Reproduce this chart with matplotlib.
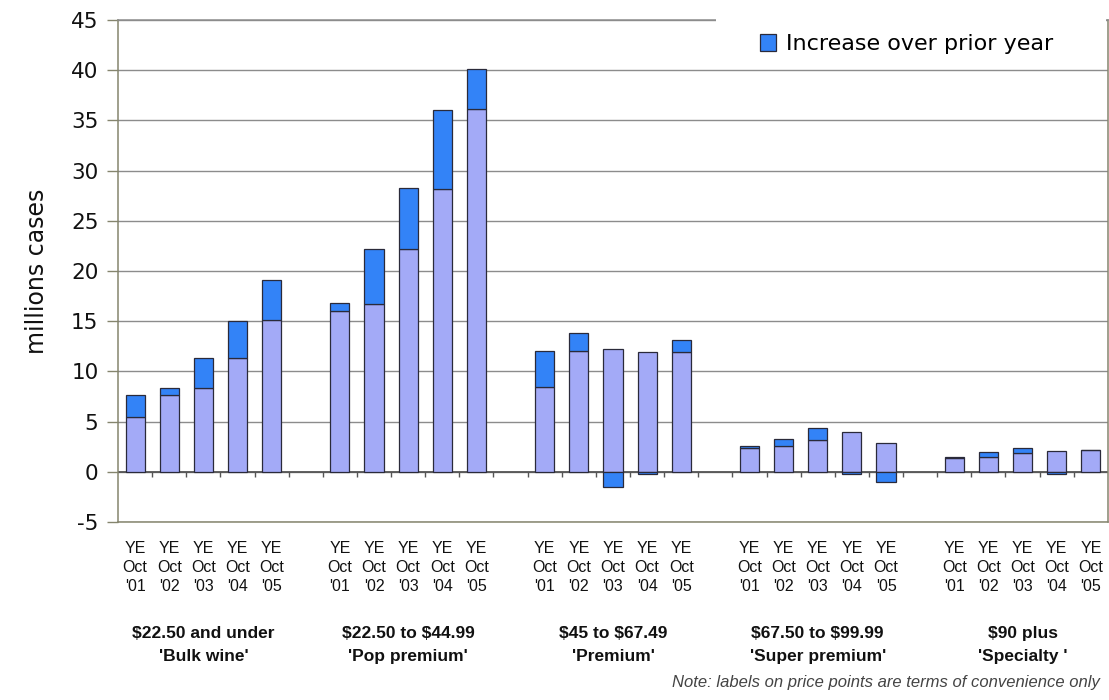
import matplotlib
matplotlib.use("Agg")
import matplotlib.pyplot as plt
from matplotlib.patches import Rectangle
import numpy as np

plt.rcParams['text.parse_math'] = False
plt.rcParams['axes.unicode_minus'] = False

# price point groups (lavender = base, blue = increase over prior year)
groups = ["$22.50 and under\n'Bulk wine'", "$22.50 to $44.99\n'Pop premium'",
          "$45 to $67.49\n'Premium'", "$67.50 to $99.99\n'Super premium'",
          "$90 plus\n'Specialty '"]
years = ["YE\nOct\n'01", "YE\nOct\n'02", "YE\nOct\n'03", "YE\nOct\n'04", "YE\nOct\n'05"]

bulk_base = [5.5, 7.6, 8.3, 11.3, 15.1]
bulk_inc = [2.1, 0.75, 3.0, 3.7, 4.0]
pop_base = [16.0, 16.7, 22.2, 28.2, 36.1]
pop_inc = [0.8, 5.5, 6.1, 7.8, 4.0]
prem_base = [8.4, 12.0, 12.2, 11.9, 11.9]
prem_inc = [3.6, 1.8, -1.5, -0.25, 1.2]
super_base = [2.4, 2.6, 3.2, 4.0, 2.85]
super_inc = [0.2, 0.65, 1.2, -0.25, -1.0]
spec_base = [1.35, 1.5, 1.9, 2.1, 2.15]
spec_inc = [0.15, 0.5, 0.45, -0.2, 0.0]

base = np.array([bulk_base, pop_base, prem_base, super_base, spec_base])
inc = np.array([bulk_inc, pop_inc, prem_inc, super_inc, spec_inc])

lav = '#a3aaf7'
blue = '#3383f7'
edge = '#2a2a3a'
spine_c = '#85856e'
grid_c = '#8c8c8c'

fig = plt.figure(figsize=(11.09, 7.0), dpi=100)
ax = fig.add_axes([0.1064, 0.2543, 0.8926, 0.7171])

ng, nb = base.shape
x = np.array([[g * (nb + 1) + i for i in range(nb)] for g in range(ng)])
xf = x.ravel()
bf = base.ravel()
inf = inc.ravel()
w = 0.56

ax.bar(xf, bf, width=w, color=lav, edgecolor=edge, linewidth=0.9, zorder=3)
bottoms = np.where(inf >= 0, bf, 0)
ax.bar(xf, inf, bottom=bottoms, width=w, color=blue, edgecolor=edge,
       linewidth=0.9, zorder=3, label='Increase over prior year')

ax.set_xlim(-0.5, xf.max() + 0.5)
ax.set_ylim(-5, 45)
ax.set_yticks(np.arange(-5, 46, 5))
ax.yaxis.grid(True, color=grid_c, linewidth=1.0, zorder=0)
ax.set_axisbelow(True)

# category axis at zero with small separator ticks
ax.axhline(0, color='#555555', linewidth=1.3, zorder=2)
seps = np.arange(-0.5, xf.max() + 0.5, 1.0)[1:]
ax.vlines(seps, -0.5, 0, color='#555555', linewidth=1.0, zorder=2)

ax.set_xticks(xf)
ax.set_xticklabels(years * ng, fontsize=11.5, family='Liberation Sans',
                   linespacing=1.3, color='#111111')
ax.tick_params(axis='x', length=0, pad=14)
ax.tick_params(axis='y', direction='out', length=8, width=1, color=spine_c,
               labelsize=15.5, pad=6, labelcolor='#111111')
for s in ax.spines.values():
    s.set_color(spine_c)
    s.set_linewidth(1.1)
ax.spines['top'].set_color(grid_c)

ax.set_ylabel('millions cases', fontsize=17, labelpad=16, color='#111111')

for g in range(ng):
    ax.text(x[g].mean(), -0.245, groups[g], transform=ax.get_xaxis_transform(),
            ha='center', va='center', fontsize=12.5, fontweight='bold',
            family='Liberation Sans', linespacing=1.6, color='#111111')

fig.text(0.992, 0.014, 'Note: labels on price points are terms of convenience only',
         ha='right', va='bottom', fontsize=12, style='italic',
         family='Liberation Sans', color='#444444')

# white legend area covering the top line
ax.add_patch(Rectangle((0.604, 0.955), 0.394, 0.06, transform=ax.transAxes,
                       facecolor='white', edgecolor='none', zorder=4, clip_on=False))
leg = ax.legend(loc='center right', bbox_to_anchor=(0.945, 0.952), frameon=False,
                fontsize=16, handlelength=0.75, handleheight=0.75,
                handletextpad=0.45, borderpad=0, borderaxespad=0)
leg.set_zorder(5)

fig.savefig('out.png', dpi=100)
